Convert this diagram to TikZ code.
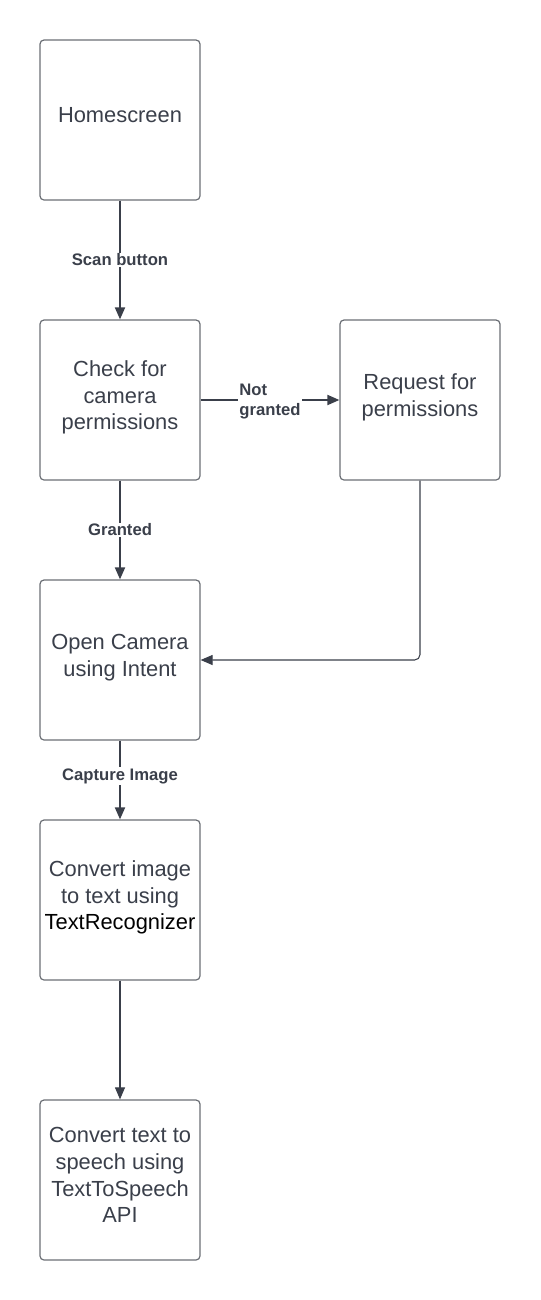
\documentclass[tikz,border=0pt]{standalone}
\usepackage{fontspec}
\setmainfont{Liberation Sans}
\usetikzlibrary{arrows.meta, positioning}
\definecolor{boxline}{HTML}{6B6F75}
\definecolor{ink}{HTML}{3A3F4A}
\tikzset{
  stage/.style={draw=boxline, line width=0.9pt, rounded corners=3pt, minimum width=120pt,
    minimum height=120pt, align=center, text=ink, text depth=7pt, font=\fontsize{16.4}{20}\selectfont},
  flow/.style={draw=ink, line width=1.4pt, -{Triangle[length=9pt, width=7.5pt]}},
  thinflow/.style={draw=ink, line width=0.8pt, -{Triangle[length=9pt, width=7.5pt]}},
  cond/.style={fill=white, text=ink, font=\bfseries\fontsize{12.5}{15}\selectfont, align=left, inner sep=1pt}
}
\begin{document}
\begin{tikzpicture}[x=0.75pt, y=-0.75pt]
\useasboundingbox (0,0) rectangle (540,1300);
% Draw stages
\node[stage] (home) at (120,120) {Homescreen};
\node[stage] (check) at (120,400) {Check for\\camera\\permissions};
\node[stage] (request) at (420,400) {Request for\\permissions};
\node[stage] (camera) at (120,660) {Open Camera\\using Intent};
\node[stage] (recog) at (120,900) {Convert image\\to text using\\\textcolor{black}{TextRecognizer}};
\node[stage] (speech) at (120,1180) {Convert text to\\speech using\\TextToSpeech\\API};
% Draw transitions
\draw[flow] (home) -- node[cond] {Scan button} (check);
\draw[flow] (check) -- node[cond, yshift=-1pt] {Not\\granted} (request);
\draw[flow] (check) -- node[cond] {Granted} (camera);
\draw[thinflow, rounded corners=4pt] (request.south) |- (camera.east);
\draw[flow] (camera) -- node[cond, pos=0.45] {Capture Image} (recog);
\draw[thinflow] (recog) -- (speech);
\end{tikzpicture}
\end{document}
